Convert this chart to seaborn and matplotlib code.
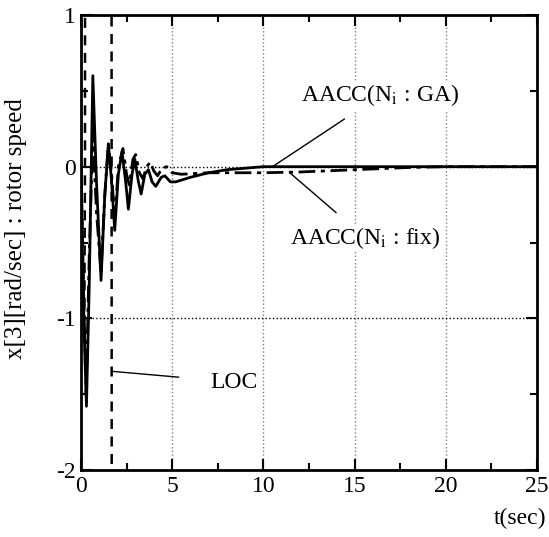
import numpy as np
import pandas as pd
import seaborn as sns
import matplotlib.pyplot as plt
from matplotlib.ticker import MultipleLocator

# rotor speed response
t_ga = [0, 0.1, 0.3, 0.45, 0.65, 0.85, 1.1, 1.3, 1.5, 1.68, 1.85, 2.05, 2.25, 2.45, 2.6,
        2.8, 2.95, 3.15, 3.3, 3.5, 3.7, 3.9, 4.1, 4.4, 4.6, 4.9, 5.2, 6, 7, 8, 10, 25]
x3_ga = [0, -0.8, -1.58, -0.8, 0.6, -0.1, -0.75, -0.2, 0.15, -0.1, -0.42, -0.05, 0.1, -0.1, -0.28,
         -0.05, 0.05, -0.1, -0.18, -0.05, -0.02, -0.1, -0.13, -0.07, -0.06, -0.1, -0.1, -0.07, -0.04, -0.02, 0, 0]

t_fix = [0, 0.1, 0.28, 0.45, 0.65, 0.85, 1.1, 1.3, 1.5, 1.68, 1.85, 2.05, 2.3, 2.5, 2.65,
         2.85, 3.0, 3.2, 3.4, 3.6, 3.8, 4.0, 4.2, 4.45, 4.7, 5.0, 5.5, 7, 10, 12, 15, 18, 20, 25]
x3_fix = [0, -0.6, -1.5, -0.6, 0.22, -0.3, -0.7, -0.2, 0.15, -0.05, -0.35, 0.0, 0.12, -0.05, -0.12,
          0.05, 0.08, -0.04, -0.08, 0.0, 0.03, -0.03, -0.06, -0.01, 0.0, -0.04, -0.05, -0.04, -0.04, -0.035, -0.02, -0.005, 0, 0]

t_loc = [0, 0.1, 0.18, 0.22, 0.23, 1.67, 1.69, 25]
x3_loc = [0, -0.5, -1.1, 0.0, 5, 5, -5, -5]

plt.rcParams['font.family'] = ['Liberation Serif', 'DejaVu Serif']
plt.rcParams['mathtext.fontset'] = 'stix'
plt.rcParams['axes.unicode_minus'] = False

fig = plt.figure(figsize=(5.49, 5.37), dpi=100)
ax = fig.add_axes([0.1475, 0.1248, 0.8305, 0.8472])

sns.lineplot(x=t_loc, y=x3_loc, ax=ax, color='black', lw=1.8, linestyle=(0, (4, 3)), sort=False)
sns.lineplot(x=t_fix, y=x3_fix, ax=ax, color='black', lw=2.0, linestyle=(0, (6, 2, 1.5, 2)), sort=False)
sns.lineplot(x=t_ga, y=x3_ga, ax=ax, color='black', lw=2.0, sort=False)

ax.set_xlim(0, 25)
ax.set_ylim(-2, 1)
ax.xaxis.set_major_locator(MultipleLocator(5))
ax.xaxis.set_minor_locator(MultipleLocator(2.5))
ax.yaxis.set_major_locator(MultipleLocator(1))
ax.yaxis.set_minor_locator(MultipleLocator(0.5))
ax.tick_params(which='both', direction='in', top=True, right=True, labelsize=17, width=1.5)
ax.tick_params(which='major', length=8)
ax.tick_params(which='minor', length=5)
ax.tick_params(axis='x', pad=4)
for s in ax.spines.values():
    s.set_linewidth(2)

ax.grid(True, which='major', axis='x', color='gray', linestyle=':', lw=1)
ax.grid(True, which='major', axis='y', color='black', linestyle=':', lw=1)
ax.set_axisbelow(True)

ax.set_xlabel('')
ax.set_ylabel('x[3][rad/sec] : rotor speed', fontsize=18)
ax.yaxis.set_label_coords(-0.118, 0.53)
fig.text(0.948, 0.035, 't(sec)', fontsize=17, ha='center', va='center')

box = dict(facecolor='white', edgecolor='none', pad=1)
ax.annotate(r'AACC(N$_{\mathrm{i}}$ : GA)', xy=(10.5, 0.0), xytext=(16.4, 0.47),
            fontsize=17, ha='center', va='center', bbox=box,
            arrowprops=dict(arrowstyle='-', color='black', lw=1, shrinkA=12, shrinkB=0))
ax.annotate(r'AACC(N$_{\mathrm{i}}$ : fix)', xy=(11.45, -0.04), xytext=(15.6, -0.47),
            fontsize=17, ha='center', va='center', bbox=box,
            arrowprops=dict(arrowstyle='-', color='black', lw=1, shrinkA=12, shrinkB=0))
ax.annotate('LOC', xy=(1.75, -1.35), xytext=(8.4, -1.42),
            fontsize=17, ha='center', va='center', bbox=box,
            arrowprops=dict(arrowstyle='-', color='black', lw=1, shrinkA=22, shrinkB=0))

fig.savefig('out.png', dpi=100)
